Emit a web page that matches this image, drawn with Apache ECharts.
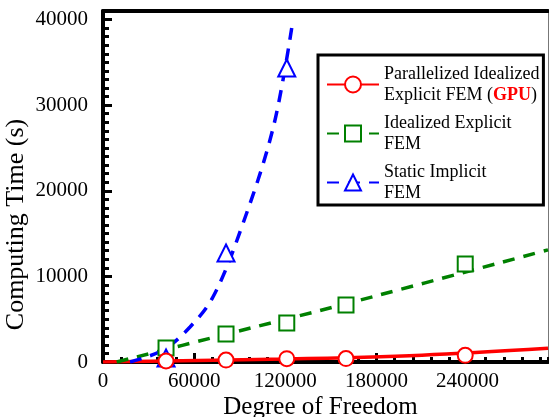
<!DOCTYPE html>
<html>
<head>
<meta charset="utf-8">
<script src="https://cdn.jsdelivr.net/npm/echarts@6/dist/echarts.min.js"></script>
<style>
  html, body { margin: 0; padding: 0; background: #fff; }
  #chart { width: 549px; height: 417px; }
</style>
</head>
<body>
<div id="chart"></div>
<script>
const serif = "'Liberation Serif', 'Times New Roman', serif"

// measured points
const dofPoints = [41500, 81000, 121000, 160000, 238500]
const gpuTime = [120, 230, 390, 400, 780]
const explicitTime = [1640, 3270, 4560, 6660, 11450]
const staticDof = [41500, 81000, 121000]
const staticTime = [470, 12730, 34340]

// fitted curves
const gpuFitDof = [0, 120000, 210000, 293000]
const gpuFitTime = [0, 350, 800, 1600]
const explicitFitDof = [9000, 80000, 160000, 293000]
const explicitFitTime = [0, 3200, 6800, 13100]
const staticFitDof = [17800, 39500, 57300, 72400, 90200, 112000, 125100]
const staticFitTime = [0, 1400, 4090, 7590, 15200, 27330, 40000]

const xTicks = [0, 60000, 120000, 180000, 240000]
const yTicks = [0, 10000, 20000, 30000, 40000]

const names = ['Parallelized Idealized Explicit FEM (GPU)', 'Idealized Explicit FEM', 'Static Implicit FEM']
const RED = '#ff0000'
const GREEN = '#008000'
const BLUE = '#0000ff'

const zip = (xs, ys) => xs.map((x, i) => [x, ys[i]])

const chart = echarts.init(document.getElementById('chart'))

const fitLine = (name, xs, ys, color, symbol, dashed) => ({
  name,
  type: 'line',
  data: zip(xs, ys),
  smooth: 0.35,
  showSymbol: false,
  symbol,
  symbolSize: 16,
  silent: true,
  z: 3,
  itemStyle: { color, borderWidth: 1.5 },
  lineStyle: { color, width: 3.5, type: dashed ? [12, 9] : 'solid' },
})

const markers = (name, xs, ys, color, symbol, size, bw) => ({
  name,
  type: 'scatter',
  data: zip(xs, ys),
  symbol,
  symbolSize: size,
  clip: false,
  z: 5,
  itemStyle: { color, borderColor: color, borderWidth: bw, opacity: 1 },
})

const tickLabel = (list) => ({
  showMaxLabel: false,
  formatter: (v) => (list.includes(v) ? '{n|' + v + '}' : ''),
  rich: { n: { fontFamily: serif, fontSize: 21, color: '#000' } },
})

chart.setOption({
  animation: false,
  backgroundColor: '#fff',
  textStyle: { fontFamily: serif, color: '#000' },
  grid: { left: 103, right: 1, top: 11, bottom: 55, containLabel: false, outerBoundsMode: 'none' },
  legend: {
    orient: 'vertical',
    left: 318,
    top: 55,
    padding: [10, 4, 3, 8],
    itemGap: 10,
    itemWidth: 52,
    itemHeight: 20,
    backgroundColor: '#fff',
    borderColor: '#000',
    borderWidth: 3,
    borderRadius: 0,
    data: names,
    formatter: (n) => {
      if (n === names[0]) return '{t|Parallelized Idealized}\n{t|Explicit FEM (}{g|GPU}{t|)}'
      if (n === names[1]) return '{t|Idealized Explicit}\n{t|FEM}'
      return '{t|Static Implicit}\n{t|FEM}'
    },
    textStyle: {
      fontFamily: serif,
      rich: {
        t: { fontFamily: serif, fontSize: 18, lineHeight: 21, color: '#000' },
        g: { fontFamily: serif, fontSize: 18, lineHeight: 21, color: RED, fontWeight: 'bold' },
      },
    },
  },
  xAxis: [
    {
      type: 'value',
      position: 'bottom',
      min: 0,
      max: 293000,
      interval: 60000,
      name: 'Degree of Freedom',
      nameLocation: 'middle',
      nameGap: 33,
      nameMoveOverlap: false,
      nameTextStyle: { fontFamily: serif, fontSize: 25, color: '#000', padding: [0, 10, 0, 0] },
      axisLine: { onZero: false, lineStyle: { color: '#000', width: 4 } },
      axisTick: { inside: true, length: 9, lineStyle: { color: '#000', width: 3 } },
      axisLabel: { ...tickLabel(xTicks), margin: 9 },
      splitLine: { show: false },
    },
    {
      type: 'value',
      position: 'bottom',
      min: 0,
      max: 293000,
      interval: 12000,
      axisLine: { show: false },
      axisTick: { inside: true, length: 5, lineStyle: { color: '#000', width: 3 } },
      axisLabel: { show: false },
      splitLine: { show: false },
    },
    {
      type: 'value',
      position: 'top',
      min: 0,
      max: 293000,
      axisLine: { onZero: false, lineStyle: { color: '#000', width: 4 } },
      axisTick: { show: false },
      axisLabel: { show: false },
      splitLine: { show: false },
    },
  ],
  yAxis: [
    {
      type: 'value',
      position: 'left',
      min: 0,
      max: 41000,
      interval: 10000,
      name: 'Computing Time (s)',
      nameLocation: 'middle',
      nameGap: 74,
      nameMoveOverlap: false,
      nameTextStyle: { fontFamily: serif, fontSize: 26, color: '#000', padding: [0, 76, 0, 0] },
      axisLine: { onZero: false, lineStyle: { color: '#000', width: 4 } },
      axisTick: { inside: true, length: 9, lineStyle: { color: '#000', width: 3 } },
      axisLabel: { ...tickLabel(yTicks), margin: 15 },
      splitLine: { show: false },
    },
    {
      type: 'value',
      position: 'left',
      min: 0,
      max: 41000,
      interval: 1000,
      axisLine: { show: false },
      axisTick: { inside: true, length: 6, lineStyle: { color: '#000', width: 3 } },
      axisLabel: { show: false },
      splitLine: { show: false },
    },
    {
      type: 'value',
      position: 'right',
      min: 0,
      max: 41000,
      axisLine: { onZero: false, lineStyle: { color: '#777', width: 1 } },
      axisTick: { show: false },
      axisLabel: { show: false },
      splitLine: { show: false },
    },
  ],
  series: [
    fitLine(names[0], gpuFitDof, gpuFitTime, RED, 'emptyCircle', false),
    fitLine(names[1], explicitFitDof, explicitFitTime, GREEN, 'emptyRect', true),
    fitLine(names[2], staticFitDof, staticFitTime, BLUE, 'emptyTriangle', true),
    markers(names[1], dofPoints, explicitTime, GREEN, 'emptyRect', 15, 1.5),
    markers(names[2], staticDof, staticTime, BLUE, 'emptyTriangle', 17, 1.5),
    markers(names[0], dofPoints, gpuTime, RED, 'emptyCircle', 15, 2),
  ],
})
</script>
</body>
</html>
